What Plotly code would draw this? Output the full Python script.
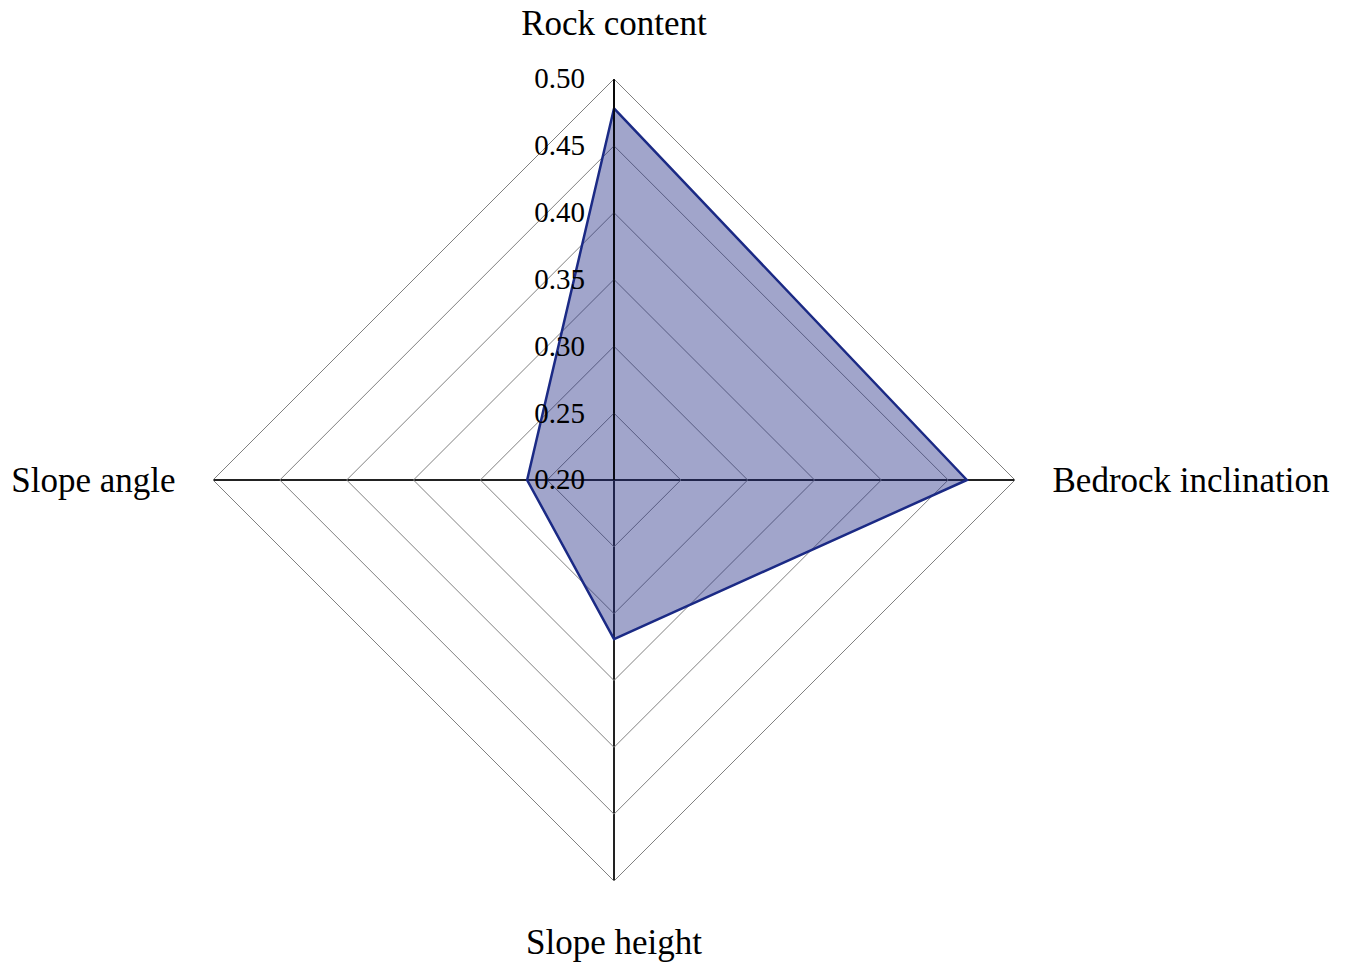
import plotly.graph_objects as go

categories = ["Rock content", "Bedrock inclination", "Slope height", "Slope angle"]
values = [0.478, 0.464, 0.319, 0.265]
tick_vals = [0.20, 0.25, 0.30, 0.35, 0.40, 0.45, 0.50]
tick_text = ["0.20", "0.25", "0.30", "0.35", "0.40", "0.45", "0.50"]

W, H = 1350, 967
cx, cy, R = 606, 472, 401

fig = go.Figure()
fig.add_trace(go.Scatterpolar(
    r=values + values[:1],
    theta=categories + categories[:1],
    mode="lines",
    fill="toself",
    fillcolor="rgba(30,40,130,0.42)",
    line=dict(color="#1B2A85", width=2.5),
    showlegend=False,
))

fig.update_layout(
    width=W, height=H,
    margin=dict(l=0, r=0, t=0, b=0),
    paper_bgcolor="white",
    font=dict(family="Liberation Serif, Times New Roman, serif", color="black"),
    polar=dict(
        bgcolor="white",
        gridshape="linear",
        domain=dict(x=[(cx - R) / W, (cx + R) / W], y=[(H - cy - R) / H, (H - cy + R) / H]),
        radialaxis=dict(
            range=[0.2, 0.5],
            tickvals=tick_vals,
            ticktext=tick_text,
            angle=90,
            tickangle=90,
            side="counterclockwise",
            showline=True,
            linecolor="black",
            linewidth=1.5,
            gridcolor="#808080",
            gridwidth=1,
            ticks="outside",
            ticklen=18,
            tickcolor="rgba(0,0,0,0)",
            tickfont=dict(size=29, color="black"),
            layer="above traces",
        ),
        angularaxis=dict(
            rotation=90,
            direction="clockwise",
            showline=True,
            linecolor="#808080",
            linewidth=1,
            gridcolor="#222222",
            gridwidth=1.5,
            ticks="outside",
            ticklen=30,
            tickcolor="rgba(0,0,0,0)",
            tickfont=dict(size=35, color="black"),
            layer="above traces",
        ),
    ),
)

fig.write_html("out.html")
